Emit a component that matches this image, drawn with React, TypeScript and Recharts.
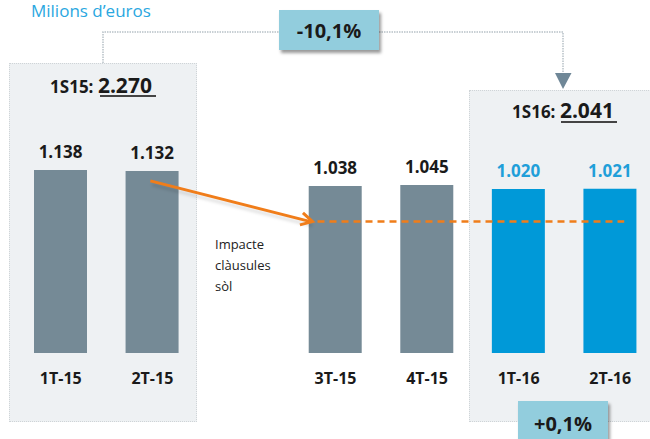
import { BarChart, Bar, XAxis, YAxis, Cell, LabelList, ReferenceLine } from "recharts";

// milions d'euros per trimestre (buit = separació entre 2T-15 i 3T-15)
const quarters = ["1T-15", "2T-15", "", "3T-15", "4T-15", "1T-16", "2T-16"];
const margin = [1138, 1132, null, 1038, 1045, 1020, 1021];
const highlighted = ["1T-16", "2T-16"];

const semester1Label = "1S15:";
const semester1Total = "2.270";
const semester2Label = "1S16:";
const semester2Total = "2.041";
const yoyChange = "-10,1%";
const qoqChange = "+0,1%";

// anotació "Impacte clàusules sòl"
const arrowFrom = { x: "2T-15", y: 1070 };
const impactLevel = 817;

const data = quarters.map((q, i) => ({ quarter: q, value: margin[i] }));
const hiValues = quarters.map((q, i) => (highlighted.includes(q) ? margin[i] : null)).filter((v) => v != null);

const GREY = "#758a96";
const BLUE = "#0099d8";
const ORANGE = "#f07d1a";
const FONT = "'Open Sans', 'DejaVu Sans', sans-serif";

const fmt = (v: number) => (v / 1000).toFixed(3);

const renderValue = (props: any) => {
    const { value } = props;
    if (value == null) return null;
    const vb = props.viewBox || props;
    const hi = hiValues.includes(value);
    return (
        <text
            x={vb.x + vb.width / 2}
            y={vb.y - 12}
            textAnchor="middle"
            fontFamily={FONT}
            fontWeight={700}
            fontSize={17}
            fill={hi ? "#1f9fd9" : "#1a1a1a"}
        >
            {fmt(value)}
        </text>
    );
};

const arrowShape = (p: any) => {
    const x1 = p.x1 - 2;
    const y1 = p.y1;
    const x2 = p.x2 - 23;
    const y2 = p.y2;
    const a = Math.atan2(y2 - y1, x2 - x1);
    const h = 13;
    const l1 = [x2 - h * Math.cos(a - 0.5), y2 - h * Math.sin(a - 0.5)];
    const l2 = [x2 - h * Math.cos(a + 0.5), y2 - h * Math.sin(a + 0.5)];
    return (
        <g>
            <line x1={x1 + 2} y1={y1 + 4} x2={x2} y2={y2 + 4} stroke="#000" strokeOpacity={0.12} strokeWidth={3} filter="url(#soft)" />
            <line x1={x1} y1={y1} x2={x2 - 2} y2={y2} stroke={ORANGE} strokeWidth={3} />
            <polyline
                points={`${l1[0]},${l1[1]} ${x2},${y2} ${l2[0]},${l2[1]}`}
                fill="none"
                stroke={ORANGE}
                strokeWidth={3}
                strokeLinejoin="miter"
            />
        </g>
    );
};

const dashedShape = (p: any) => (
    <g>
        <defs>
            <filter id="soft" x="-10%" y="-200%" width="120%" height="500%">
                <feGaussianBlur stdDeviation="1.5" />
            </filter>
        </defs>
        <line x1={p.x1 - 18} y1={p.y1 + 5} x2={p.x2 + 14} y2={p.y2 + 5} stroke="#000" strokeOpacity={0.12} strokeWidth={3} strokeDasharray="7 5" filter="url(#soft)" />
        <line x1={p.x1 - 18} y1={p.y1} x2={p.x2 + 14} y2={p.y2} stroke={ORANGE} strokeWidth={2.5} strokeDasharray="7 5" />
    </g>
);

const pctBox = (left: number, top: number, w: number, h: number, text: string) => (
    <div
        style={{
            position: "absolute",
            left,
            top,
            width: w,
            height: h,
            background: "#92cddd",
            boxShadow: "2px 3px 3px rgba(0,0,0,0.4)",
            display: "flex",
            alignItems: "center",
            justifyContent: "center",
            fontFamily: FONT,
            fontWeight: 700,
            fontSize: 20,
            color: "#1a1a1a",
        }}
    >
        {text}
    </div>
);

export default function App() {
    return (
        <div
            style={{
                position: "absolute",
                left: 0,
                top: 0,
                width: 650,
                height: 439,
                overflow: "hidden",
                background: "#fff",
            }}
        >
            {/* caixes de semestre */}
            <div style={{ position: "absolute", left: 9, top: 63, width: 188, height: 359, background: "#eef1f3", border: "1px dotted #cfd4d7", boxSizing: "border-box" }} />
            <div style={{ position: "absolute", left: 469, top: 90, width: 190, height: 332, background: "#eef1f3", border: "1px dotted #cfd4d7", boxSizing: "border-box" }} />

            <div style={{ position: "absolute", left: 0, top: 0 }}>
                <BarChart width={670} height={439} data={data} margin={{ top: 160, right: 14, bottom: 0, left: 15 }}>
                    <XAxis
                        dataKey="quarter"
                        height={86}
                        axisLine={false}
                        tickLine={false}
                        tickSize={0}
                        tickMargin={20}
                        interval={0}
                        tick={{ fontFamily: FONT, fontWeight: 700, fontSize: 16, fill: "#1a1a1a" }}
                    />
                    <YAxis hide domain={[0, 1200]} />
                    <Bar dataKey="value" barSize={53} isAnimationActive={false}>
                        {data.map((d) => (
                            <Cell key={d.quarter || "gap"} fill={highlighted.includes(d.quarter) ? BLUE : GREY} />
                        ))}
                        <LabelList dataKey="value" content={renderValue} />
                    </Bar>
                    <ReferenceLine
                        segment={[{ x: "3T-15", y: impactLevel }, { x: "2T-16", y: impactLevel }]}
                        ifOverflow="visible"
                        shape={dashedShape}
                    />
                    <ReferenceLine
                        segment={[arrowFrom, { x: "3T-15", y: impactLevel }]}
                        ifOverflow="visible"
                        shape={arrowShape}
                    />
                </BarChart>
            </div>

            {/* textos i connectors */}
            <svg width={650} height={439} style={{ position: "absolute", left: 0, top: 0, pointerEvents: "none" }}>
                <text x={31} y={17} fontFamily={FONT} fontSize={17} fill="#2aa7df">
                    Milions d’euros
                </text>
                <polyline points="103,63 103,32 279,32" fill="none" stroke="#b8c1c7" strokeWidth={1.5} strokeDasharray="1.5 1" />
                <polyline points="379,32 563,32 563,73" fill="none" stroke="#b8c1c7" strokeWidth={1.5} strokeDasharray="1.5 1" />
                <polygon points="555,73 571.5,73 563,89" fill="#6f8797" />

                <text x={101} y={92.5} textAnchor="middle" fontFamily={FONT} fontWeight={700} fill="#1a1a1a">
                    <tspan fontSize={17}>{semester1Label} </tspan>
                    <tspan fontSize={21}>{semester1Total}</tspan>
                </text>
                <line x1={100} y1={96} x2={156} y2={96} stroke="#444" strokeWidth={2} />
                <text x={563} y={118} textAnchor="middle" fontFamily={FONT} fontWeight={700} fill="#1a1a1a">
                    <tspan fontSize={17}>{semester2Label} </tspan>
                    <tspan fontSize={21}>{semester2Total}</tspan>
                </text>
                <line x1={561} y1={122} x2={617} y2={122} stroke="#444" strokeWidth={2} />

                <text fontFamily={FONT} fontSize={13} fill="#222">
                    <tspan x={215} y={249}>Impacte</tspan>
                    <tspan x={215} y={270}>clàusules</tspan>
                    <tspan x={215} y={291}>sòl</tspan>
                </text>
            </svg>

            {pctBox(279, 10, 100, 40, yoyChange)}
            {pctBox(518, 401, 90, 45, qoqChange)}
        </div>
    );
}
